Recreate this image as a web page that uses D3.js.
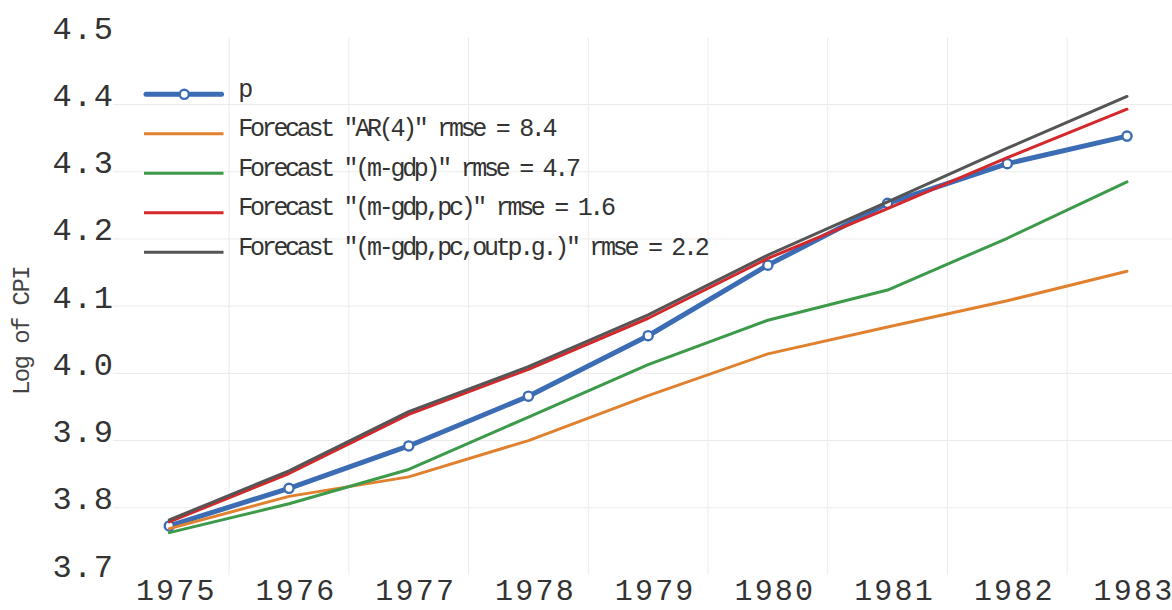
<!DOCTYPE html>
<html>
<head>
<meta charset="utf-8">
<script src="https://cdn.jsdelivr.net/npm/d3@7"></script>
<style>
  html, body { margin: 0; padding: 0; background: #fff; }
  svg { display: block; }
</style>
</head>
<body>
<svg id="chart" width="1172" height="610"></svg>
<script>
// Annual observations of the log CPI and four competing forecasts
const years = [1975, 1976, 1977, 1978, 1979, 1980, 1981, 1982, 1983];

const actualP   = [3.773, 3.829, 3.892, 3.966, 4.056, 4.161, 4.253, 4.312, 4.353];
const fcAR4     = [3.769, 3.817, 3.846, 3.900, 3.967, 4.029, 4.069, 4.108, 4.152];
const fcMGdp    = [3.763, 3.806, 3.857, 3.935, 4.013, 4.079, 4.124, 4.201, 4.285];
const fcMGdpPc  = [3.779, 3.851, 3.939, 4.006, 4.082, 4.171, 4.245, 4.321, 4.393];
const fcMGdpPcO = [3.782, 3.855, 3.943, 4.010, 4.087, 4.176, 4.255, 4.335, 4.412];

const seriesNames = [
  'p',
  'Forecast "AR(4)" rmse = 8.4',
  'Forecast "(m-gdp)" rmse = 4.7',
  'Forecast "(m-gdp,pc)" rmse = 1.6',
  'Forecast "(m-gdp,pc,outp.g.)" rmse = 2.2'
];
const seriesColors = ['#3b6cb4', '#e0812f', '#3c9a4a', '#d4282c', '#555555'];

const yTicks = [3.7, 3.8, 3.9, 4.0, 4.1, 4.2, 4.3, 4.4, 4.5];
const yGrid  = [3.8, 3.9, 4.0, 4.1, 4.2, 4.3, 4.4];
const xGrid  = [1975.5, 1976.5, 1977.5, 1978.5, 1979.5, 1980.5, 1981.5, 1982.5];
const yTitle = 'Log of CPI';

const svg = d3.select('#chart');
const W = 1172;
const plotLeft = 113, plotTop = 37.3, plotBottom = 575;
const monoFont = '"Liberation Mono", "DejaVu Sans Mono", monospace';

const x = d3.scaleLinear().domain([1975, 1983]).range([169.3, 1127]);
const y = d3.scaleLinear().domain([3.7, 4.5]).range([plotBottom, plotTop]);

// grid
const grid = svg.append('g').attr('stroke', '#ebebeb').attr('stroke-width', 1);
grid.selectAll('line.h').data(yGrid).join('line')
  .attr('class', 'h')
  .attr('x1', plotLeft).attr('x2', W)
  .attr('y1', d => y(d)).attr('y2', d => y(d));
grid.selectAll('line.v').data(xGrid).join('line')
  .attr('class', 'v')
  .attr('x1', d => x(d)).attr('x2', d => x(d))
  .attr('y1', plotTop).attr('y2', plotBottom);

// y axis
const yAxis = svg.append('g')
  .attr('transform', `translate(${plotLeft},0)`)
  .call(d3.axisLeft(y).tickValues(yTicks).tickSize(0).tickPadding(0).tickFormat(d3.format('.1f')));
yAxis.select('.domain').remove();
yAxis.selectAll('text')
  .attr('x', 0).attr('dy', 1)
  .attr('dx', 1.5)
  .style('font-family', monoFont).style('font-size', '32px')
  .style('letter-spacing', '1.5px').attr('fill', '#333');

// x axis
const xAxis = svg.append('g')
  .attr('transform', `translate(0,${plotBottom})`)
  .call(d3.axisBottom(x).tickValues(years).tickSize(0).tickPadding(0).tickFormat(d3.format('d')));
xAxis.select('.domain').remove();
xAxis.selectAll('text')
  .attr('y', 25).attr('dy', 0).attr('dx', 6.5)
  .style('font-family', monoFont).style('font-size', '30px')
  .style('letter-spacing', '2.2px').attr('fill', '#333');

// y title
svg.append('text')
  .attr('transform', 'translate(28.5,331) rotate(-90)')
  .attr('text-anchor', 'middle')
  .style('font-family', monoFont).style('font-size', '24px')
  .style('letter-spacing', '-1.6px')
  .attr('fill', '#444')
  .text(yTitle);

// series
const allSeries = [actualP, fcAR4, fcMGdp, fcMGdpPc, fcMGdpPcO];
const line = d3.line().x((d, i) => x(years[i])).y(d => y(d));

const lines = svg.append('g').attr('fill', 'none');
allSeries.forEach((vals, k) => {
  lines.append('path')
    .datum(vals)
    .attr('d', line)
    .attr('stroke', seriesColors[k])
    .attr('stroke-width', k === 0 ? 5 : 3)
    .attr('stroke-linejoin', 'round')
    .attr('stroke-linecap', 'round');
  if (k === 0) {
    lines.selectAll('circle.p').data(vals).join('circle')
      .attr('class', 'p')
      .attr('cx', (d, i) => x(years[i]))
      .attr('cy', d => y(d))
      .attr('r', 4.6)
      .attr('fill', '#fff')
      .attr('stroke', seriesColors[0])
      .attr('stroke-width', 2.4);
  }
});

// legend
const legend = svg.append('g');
const legY0 = 94.3, legStep = 39.5;
seriesNames.forEach((name, k) => {
  const ly = legY0 + k * legStep;
  legend.append('line')
    .attr('x1', k === 0 ? 146 : 144).attr('x2', k === 0 ? 221.5 : 223.5)
    .attr('y1', ly).attr('y2', ly)
    .attr('stroke', seriesColors[k])
    .attr('stroke-width', k === 0 ? 5 : 3)
    .attr('stroke-linecap', k === 0 ? 'round' : 'butt');
  if (k === 0) {
    legend.append('circle')
      .attr('cx', 184.3).attr('cy', ly).attr('r', 4.6)
      .attr('fill', '#fff').attr('stroke', seriesColors[0]).attr('stroke-width', 2.4);
  }
  legend.append('text')
    .attr('x', 238.3).attr('y', ly + 2.5)
    .style('font-family', monoFont).style('font-size', '25px')
    .style('letter-spacing', '-3.3px')
    .attr('fill', '#333')
    .text(name);
});
</script>
</body>
</html>
